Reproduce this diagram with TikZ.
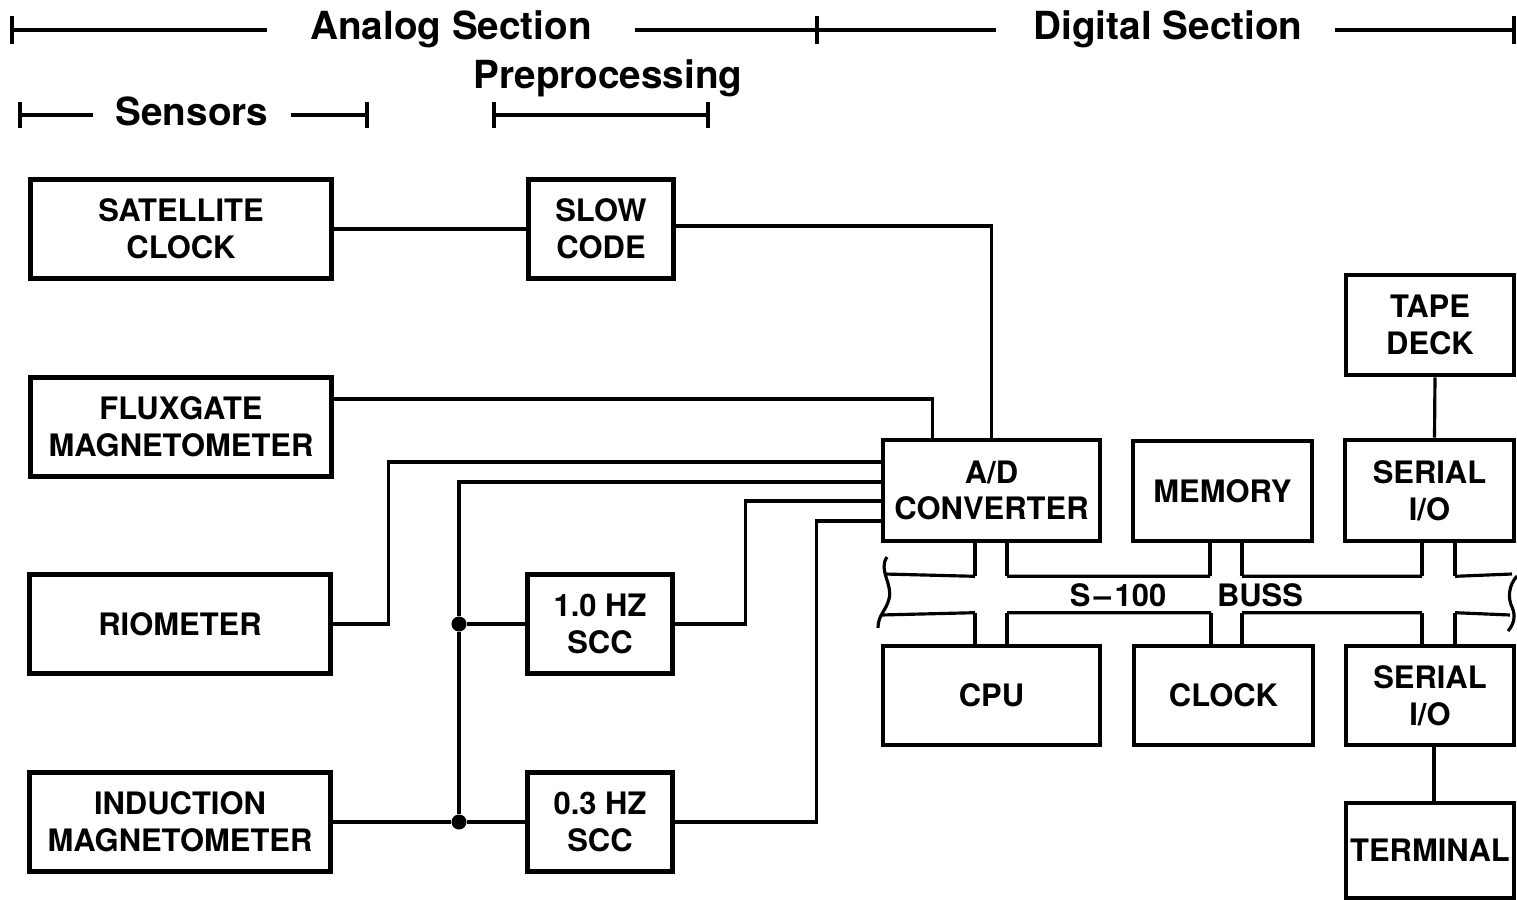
\documentclass[tikz,border=0pt]{standalone}
\usepackage{fontspec}
\setmainfont{TeX Gyre Heros}
\usetikzlibrary{calc}

\begin{document}
\begin{tikzpicture}[
    x=0.01cm, y=-0.01cm,
    blk/.style={draw, line width=1.3pt, align=center, inner sep=0pt,
        font=\fontsize{8.8}{10.4}\selectfont\bfseries},
    sensor/.style={blk, minimum width=3.01cm, minimum height=0.99cm},
    prep/.style={blk, minimum width=1.45cm, minimum height=0.99cm},
    card/.style={blk, minimum height=1.0cm},
    wire/.style={line width=0.9pt},
    hdr/.style={font=\fontsize{11}{13}\selectfont\bfseries, inner sep=0pt, anchor=base},
    buslbl/.style={font=\fontsize{8.8}{10.4}\selectfont\bfseries, inner sep=0pt},
    junct/.style={circle, fill, inner sep=0pt, minimum size=0.15cm},
]
    \useasboundingbox (0,0) rectangle (1517,900);

    % Section headings
    \node[hdr] (analog) at (451,39) {Analog Section};
    \node[hdr] (digital) at (1168,39) {Digital Section};
    \node[hdr] (sens) at (192,125) {Sensors};
    \node[hdr] (prepro) at (608,88) {Preprocessing};
    \coordinate (a0) at (12,30);
    \coordinate (a1) at (817,30);
    \coordinate (a2) at (1514,30);
    \coordinate (s0) at (20,115);
    \coordinate (s1) at (367,115);
    \coordinate (p0) at (494,115);
    \coordinate (p1) at (708,115);
    \draw[wire] (a0) -- ($(a0 -| analog.west)+(-43,0)$);
    \draw[wire] ($(a0 -| analog.east)+(43,0)$) -- (a1) -- ($(a1 -| digital.west)+(-37,0)$);
    \draw[wire] ($(a2 -| digital.east)+(32,0)$) -- (a2);
    \draw[wire] (s0) -- ($(s0 -| sens.west)+(-22,0)$);
    \draw[wire] ($(s1 -| sens.east)+(22,0)$) -- (s1);
    \draw[wire] (p0) -- (p1);
    % end ticks
    \foreach \c in {a0,a1,a2}
        \draw[wire] (\c) ++(0,-14) -- ++(0,28);
    \foreach \c in {s0,s1,p0,p1}
        \draw[wire] (\c) ++(0,-13) -- ++(0,26);

    % Sensors
    \node[sensor] (satclk) at (181,229) {SATELLITE\\CLOCK};
    \node[sensor] (flux) at (181,427) {FLUXGATE\\MAGNETOMETER};
    \node[sensor] (rio) at (180,624) {RIOMETER};
    \node[sensor] (induct) at (180,822) {INDUCTION\\MAGNETOMETER};

    % Preprocessing
    \node[prep] (slow) at (601,229) {SLOW\\CODE};
    \node[prep] (hz10) at (600,624) {1.0 HZ\\SCC};
    \node[prep] (hz03) at (600,822) {0.3 HZ\\SCC};

    % Digital cards
    \node[card, minimum width=2.17cm, minimum height=1.01cm] (ad) at (991.5,490.5) {A/D\\CONVERTER};
    \node[card, minimum width=1.79cm] (mem) at (1222.5,491) {MEMORY};
    \node[card, minimum width=1.69cm, minimum height=1.01cm] (sio1) at (1429.5,490.5) {SERIAL\\I/O};
    \node[card, minimum width=1.68cm] (tape) at (1430,325) {TAPE\\DECK};
    \node[card, minimum width=2.17cm, minimum height=0.99cm] (cpu) at (991.5,695.5) {CPU};
    \node[card, minimum width=1.79cm, minimum height=0.99cm] (clk) at (1223.5,695.5) {CLOCK};
    \node[card, minimum width=1.68cm, minimum height=0.99cm] (sio2) at (1430,695.5) {SERIAL\\I/O};
    \node[card, minimum width=1.68cm, minimum height=0.95cm] (term) at (1430,850.5) {TERMINAL};

    % Analog wiring
    \draw[wire] (satclk.east) -- (slow.west);
    \draw[wire] ($(slow.east)+(0,-3)$) -| (ad.north);
    \draw[wire] ($(flux.east)+(0,-28)$) -| ($(ad.north west)+(52,0)$);
    \draw[wire] (rio.east) -- ++(56,0) |- ($(ad.west)+(0,-28.5)$);
    \node[junct] (j1) at (459,624) {};
    \node[junct] (j2) at (459,822) {};
    \draw[wire] (induct.east) -- (j2) -- (hz03.west);
    \draw[wire] (j1) -- (hz10.west);
    \draw[wire] (j2) -- (j1) |- ($(ad.west)+(0,-8.5)$);
    \draw[wire] (hz10.east) -- ++(71,0) |- ($(ad.west)+(0,10.5)$);
    \draw[wire] (hz03.east) -- ++(142,0) |- ($(ad.west)+(0,30.5)$);

    % Peripherals
    \draw[wire] ($(tape.south)+(5,0)$) -- ($(sio1.north)+(5,0)$);
    \draw[wire] ($(sio2.south)+(4,0)$) -- ($(term.north)+(4,0)$);

    % S-100 buss taps
    \foreach \b/\dl/\dr in {ad/-16.5/15.5, mem/-12.5/19.5, sio1/-7.5/25.5} {
        \draw[wire] ($(\b.south)+(\dl,0)$) -- ++(0,33) coordinate (\b-l);
        \draw[wire] ($(\b.south)+(\dr,0)$) -- ++(0,33) coordinate (\b-r);
    }
    \foreach \b/\dl/\dr in {cpu/-16.5/15.5, clk/-12.5/18.5, sio2/-8/25} {
        \draw[wire] ($(\b.north)+(\dl,0)$) -- ++(0,-31) coordinate (\b-l);
        \draw[wire] ($(\b.north)+(\dr,0)$) -- ++(0,-31) coordinate (\b-r);
    }
    \coordinate (btl) at (884,574);
    \coordinate (btr) at (1512,574);
    \coordinate (bbl) at (881,615);
    \coordinate (bbr) at (1510,615);
    \draw[wire] (btl) -- (ad-l) (ad-r) -- (mem-l) (mem-r) -- (sio1-l) (sio1-r) -- (btr);
    \draw[wire] (bbl) -- (cpu-l) (cpu-r) -- (clk-l) (clk-r) -- (sio2-l) (sio2-r) -- (bbr);
    % broken ends of the buss
    \draw[wire] (887,557) .. controls (878,570) and (893,584) .. (889,599)
        .. controls (886,611) and (878,615) .. (878,628);
    \draw[wire] (1517,576) .. controls (1508,586) and (1508,599) .. (1512,607)
        .. controls (1516,616) and (1514,624) .. (1508,631);
    \node[buslbl] (s100) at (1118,595) {S\kern1pt--\kern1pt100};
    \node[buslbl] (buss) at (1260,595) {BUSS};
\end{tikzpicture}
\end{document}
